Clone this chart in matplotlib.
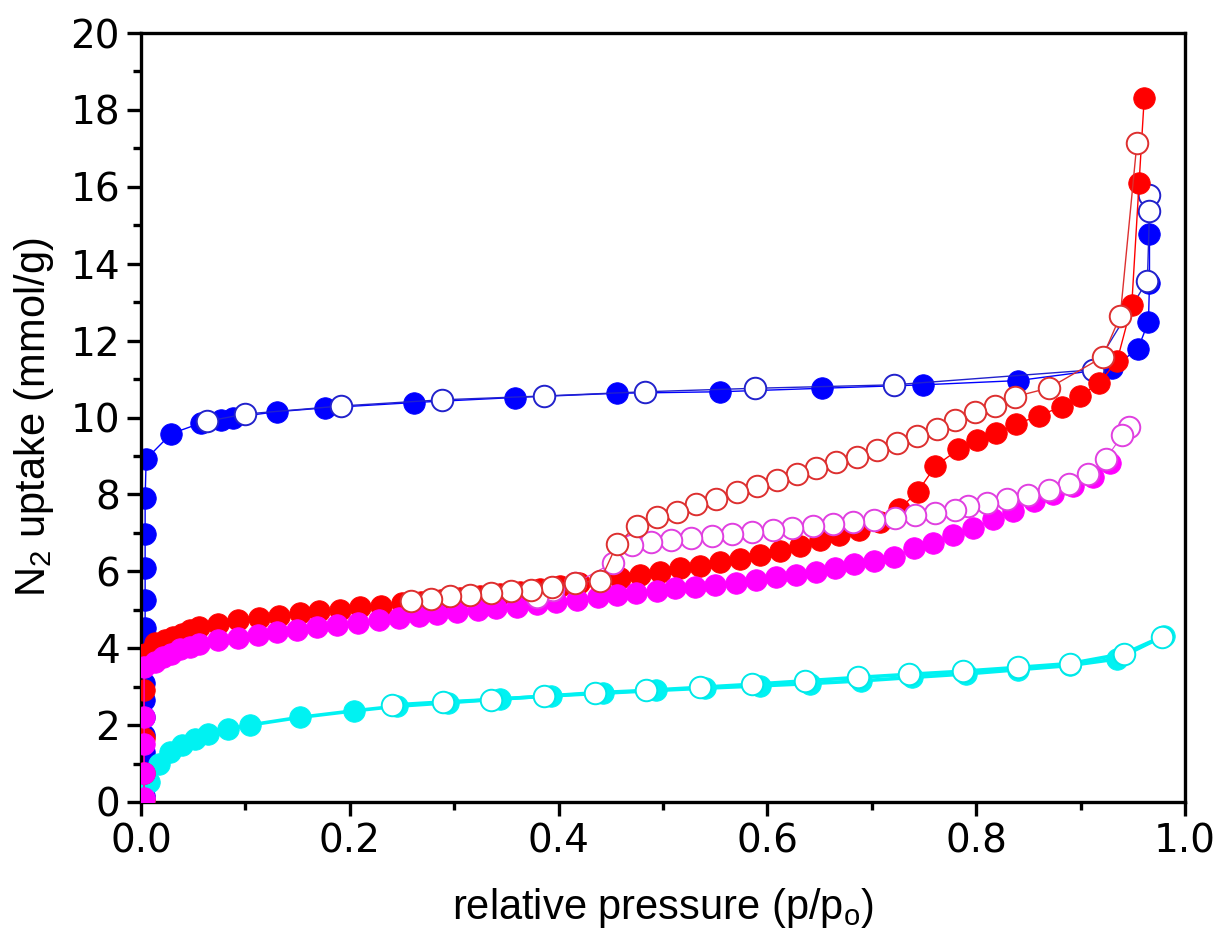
import matplotlib
matplotlib.use("Agg")
import matplotlib.pyplot as plt
from matplotlib.ticker import MultipleLocator

# N2 isotherms: filled = adsorption branch, open = desorption branch
blue_ads_p = [0.003, 0.003, 0.003, 0.003, 0.003, 0.003, 0.003, 0.003, 0.003, 0.004,
              0.004, 0.004, 0.004, 0.004, 0.004, 0.005,
              0.029, 0.058, 0.077, 0.088, 0.13, 0.176, 0.262, 0.358, 0.456, 0.555,
              0.652, 0.749, 0.84, 0.93, 0.955, 0.965, 0.966, 0.966]
blue_ads_n = [0.15, 0.5, 0.9, 1.3, 1.75, 2.2, 2.65, 3.1, 3.55, 4.0,
              4.53, 5.25, 6.09, 6.96, 7.9, 8.92,
              9.58, 9.86, 9.93, 10.0, 10.15, 10.25, 10.39, 10.52, 10.63, 10.67,
              10.76, 10.85, 10.96, 11.28, 11.79, 12.49, 13.49, 14.77]
blue_des_p = [0.966, 0.966, 0.964, 0.912, 0.721, 0.588, 0.483, 0.386, 0.288, 0.192, 0.1, 0.063]
blue_des_n = [15.79, 15.38, 13.56, 11.24, 10.85, 10.76, 10.67, 10.56, 10.46, 10.3, 10.09, 9.9]

red_ads_p = [0.003, 0.003, 0.003, 0.003, 0.004, 0.013, 0.023, 0.031, 0.039, 0.047,
             0.056, 0.074, 0.093, 0.113, 0.132, 0.152, 0.171, 0.191, 0.21, 0.23,
             0.25, 0.268, 0.287, 0.306, 0.325, 0.344, 0.363, 0.382, 0.401, 0.42,
             0.459, 0.478, 0.497, 0.516, 0.535, 0.555, 0.574, 0.593, 0.612, 0.631,
             0.65, 0.669, 0.688, 0.708, 0.726, 0.744, 0.761, 0.783, 0.801, 0.819,
             0.838, 0.86, 0.882, 0.899, 0.918, 0.935, 0.949, 0.956, 0.961]
red_ads_n = [0.05, 0.75, 1.66, 2.91, 3.85, 4.13, 4.21, 4.3, 4.36, 4.47,
             4.56, 4.64, 4.72, 4.78, 4.84, 4.91, 4.96, 5.0, 5.07, 5.11,
             5.17, 5.21, 5.26, 5.31, 5.36, 5.41, 5.47, 5.55, 5.63, 5.7,
             5.82, 5.9, 5.99, 6.08, 6.13, 6.23, 6.33, 6.42, 6.54, 6.67,
             6.81, 6.94, 7.07, 7.29, 7.61, 8.07, 8.74, 9.17, 9.41, 9.6,
             9.82, 10.05, 10.28, 10.56, 10.89, 11.48, 12.92, 16.09, 18.32]
red_des_p = [0.954, 0.938, 0.921, 0.87, 0.837, 0.818, 0.799, 0.78, 0.762, 0.743,
             0.724, 0.705, 0.686, 0.666, 0.647, 0.628, 0.609, 0.59, 0.571, 0.551,
             0.532, 0.513, 0.494, 0.475, 0.456, 0.44, 0.416, 0.394, 0.374, 0.354,
             0.335, 0.315, 0.296, 0.278, 0.259]
red_des_n = [17.15, 12.64, 11.57, 10.77, 10.54, 10.31, 10.14, 9.94, 9.7, 9.52,
             9.33, 9.15, 8.98, 8.83, 8.68, 8.52, 8.37, 8.22, 8.05, 7.88,
             7.74, 7.55, 7.4, 7.19, 6.71, 5.76, 5.7, 5.58, 5.52, 5.48,
             5.43, 5.39, 5.35, 5.29, 5.23]

mag_ads_p = [0.003, 0.003, 0.003, 0.003, 0.003, 0.013, 0.021, 0.029, 0.037, 0.047,
             0.056, 0.074, 0.093, 0.112, 0.13, 0.149, 0.169, 0.188, 0.208, 0.228,
             0.247, 0.266, 0.284, 0.303, 0.323, 0.34, 0.36, 0.379, 0.398, 0.418,
             0.438, 0.456, 0.474, 0.494, 0.512, 0.531, 0.55, 0.57, 0.589, 0.608,
             0.627, 0.647, 0.665, 0.683, 0.702, 0.721, 0.74, 0.759, 0.778, 0.797,
             0.816, 0.835, 0.855, 0.874, 0.893, 0.912, 0.928]
mag_ads_n = [0.1, 0.75, 1.5, 2.22, 3.52, 3.65, 3.78, 3.86, 3.97, 4.04,
             4.12, 4.2, 4.27, 4.35, 4.41, 4.48, 4.54, 4.6, 4.66, 4.72,
             4.78, 4.84, 4.89, 4.95, 4.99, 5.04, 5.08, 5.15, 5.2, 5.25,
             5.32, 5.38, 5.43, 5.5, 5.56, 5.6, 5.64, 5.7, 5.77, 5.84,
             5.9, 5.99, 6.08, 6.18, 6.27, 6.38, 6.6, 6.74, 6.94, 7.12,
             7.35, 7.58, 7.82, 8.02, 8.22, 8.45, 8.82]
mag_des_p = [0.946, 0.94, 0.924, 0.907, 0.889, 0.87, 0.85, 0.83, 0.81, 0.792,
             0.78, 0.761, 0.741, 0.722, 0.702, 0.682, 0.663, 0.644, 0.624, 0.605,
             0.585, 0.566, 0.547, 0.527, 0.508, 0.489, 0.47, 0.452, 0.416, 0.395, 0.379]
mag_des_n = [9.76, 9.54, 8.92, 8.52, 8.28, 8.12, 7.98, 7.88, 7.78, 7.7,
             7.6, 7.52, 7.46, 7.38, 7.33, 7.28, 7.24, 7.19, 7.12, 7.07,
             7.03, 6.97, 6.91, 6.86, 6.81, 6.76, 6.68, 6.22, 5.69, 5.51, 5.34]

cyan_ads_p = [0.003, 0.008, 0.017, 0.028, 0.039, 0.052, 0.064, 0.083, 0.104, 0.152,
              0.204, 0.245, 0.294, 0.344, 0.393, 0.443, 0.493, 0.54, 0.593, 0.641,
              0.69, 0.739, 0.79, 0.84, 0.89, 0.935, 0.98]
cyan_ads_n = [0.05, 0.53, 1.0, 1.31, 1.48, 1.64, 1.76, 1.89, 2.0, 2.2,
              2.37, 2.49, 2.58, 2.68, 2.76, 2.83, 2.9, 2.96, 3.02, 3.08,
              3.15, 3.24, 3.33, 3.44, 3.55, 3.72, 4.32]
cyan_des_p = [0.978, 0.942, 0.89, 0.84, 0.787, 0.736, 0.687, 0.636, 0.585, 0.535,
              0.484, 0.435, 0.386, 0.335, 0.289, 0.24]
cyan_des_n = [4.3, 3.86, 3.6, 3.5, 3.4, 3.32, 3.24, 3.15, 3.06, 2.98,
              2.9, 2.84, 2.75, 2.66, 2.6, 2.52]

fig = plt.figure(figsize=(12.14, 9.36), dpi=100)
ax = fig.add_axes([0.1161, 0.1432, 0.86, 0.8215])

ms = 15.5


def branch(p, n, color, edge, filled, lw, z):
    ax.plot(p, n, "-", color=color, lw=lw, zorder=z)
    ax.plot(p, n, "o", ms=ms, mfc=color if filled else "white",
            mec=edge, mew=0.6 if filled else 1.4, ls="none", zorder=z + 0.5)


branch(blue_ads_p, blue_ads_n, "#0000ff", "#0000ff", True, 1.0, 2)
branch(blue_des_p, blue_des_n, "#2222cc", "#2222cc", False, 1.0, 3)
branch(cyan_ads_p, cyan_ads_n, "#00f2f2", "#00f2f2", True, 2.6, 4)
branch(cyan_des_p, cyan_des_n, "#00f2f2", "#00e8e8", False, 2.6, 5)
branch(red_ads_p, red_ads_n, "#ff0000", "#ff0000", True, 1.0, 6)
branch(mag_ads_p, mag_ads_n, "#ff00ff", "#ff00ff", True, 0.8, 7)
branch(mag_des_p, mag_des_n, "#e040e0", "#e040e0", False, 0.8, 8)
branch(red_des_p, red_des_n, "#dd3030", "#dd3030", False, 1.0, 9)

ax.set_xlim(0, 1.0)
ax.set_ylim(0, 20)
ax.xaxis.set_major_locator(MultipleLocator(0.2))
ax.xaxis.set_minor_locator(MultipleLocator(0.1))
ax.yaxis.set_major_locator(MultipleLocator(2))
ax.yaxis.set_minor_locator(MultipleLocator(1))
ax.set_xticks([0, 0.2, 0.4, 0.6, 0.8, 1.0])
ax.set_xticklabels(["0.0", "0.2", "0.4", "0.6", "0.8", "1.0"])

for s in ax.spines.values():
    s.set_linewidth(2.4)
ax.tick_params(which="major", direction="out", length=10, width=2.4,
               labelsize=28, pad=5)
ax.tick_params(which="minor", direction="out", length=6, width=2.4)
ax.tick_params(top=False, right=False, which="both")
for lab in ax.get_xticklabels() + ax.get_yticklabels():
    lab.set_family("DejaVu Sans")

ax.set_xlabel(r"relative pressure (p/p$_\mathregular{o}$)", family="Liberation Sans",
              fontsize=30, labelpad=18)
ax.set_ylabel(r"N$_\mathregular{2}$ uptake (mmol/g)", family="Liberation Sans",
              fontsize=30, labelpad=10)

fig.savefig("out.png", dpi=100)
